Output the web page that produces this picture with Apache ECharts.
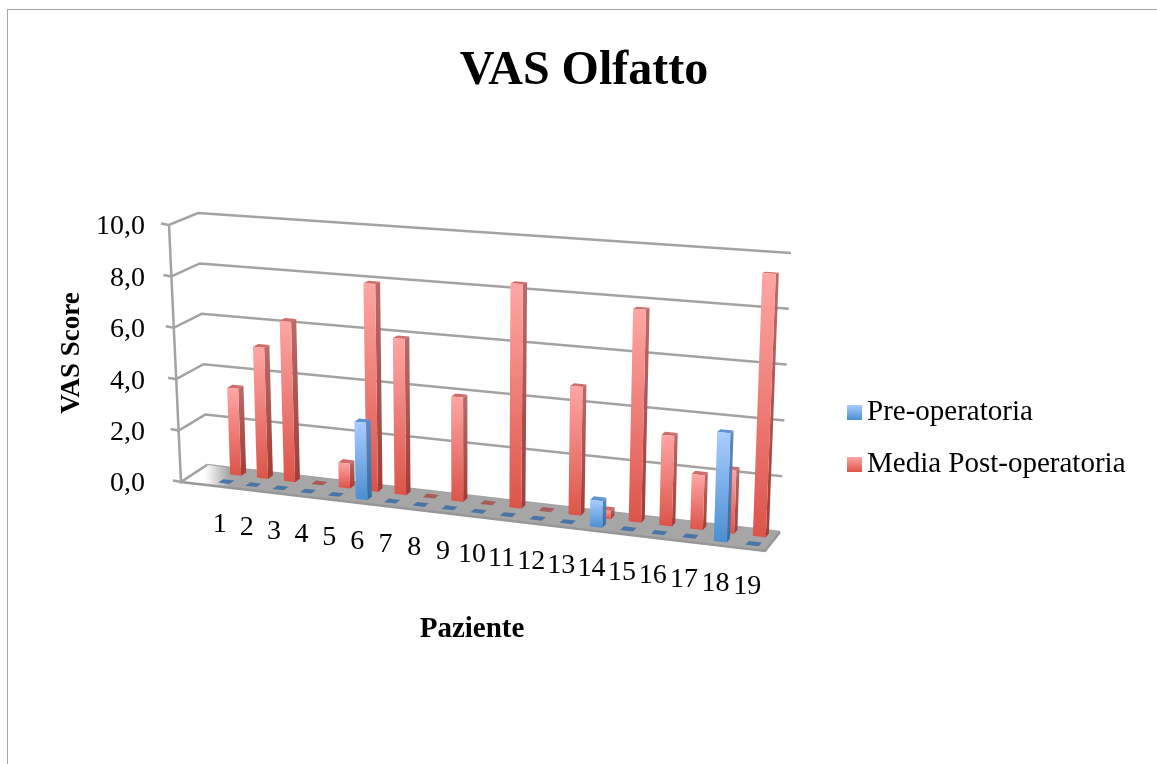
<!DOCTYPE html>
<html>
<head>
<meta charset="utf-8">
<title>VAS Olfatto</title>
<script src="https://cdn.jsdelivr.net/npm/echarts@6/dist/echarts.min.js"></script>
<style>
  html, body { margin: 0; padding: 0; background: #fff; overflow: hidden; }
  #frame { position: absolute; left: 7px; top: 9px; right: -2px; bottom: -2px; border: 1px solid #a6a6a6; }
  #chart { position: absolute; left: 0; top: 0; width: 1157px; height: 764px; }
</style>
</head>
<body>
<div id="frame"></div>
<div id="chart"></div>
<script>
// Chart values
const pazienti = ["1","2","3","4","5","6","7","8","9","10","11","12","13","14","15","16","17","18","19"];
const preOperatoria = [0, 0, 0, 0, 0, 2.9, 0, 0, 0, 0, 0, 0, 0, 0.95, 0, 0, 0, 3.8, 0];
const postOperatoria = [3.4, 5.1, 6.2, 0, 0.95, 7.9, 5.9, 0, 3.9, 0, 8.3, 0, 4.7, 0.3, 7.7, 3.25, 1.95, 2.25, 9.3];
const yTicks = [0, 2, 4, 6, 8, 10];

const FONT = '"Liberation Serif", serif';

// Grid of the real axes
const GRID = { left: 181, top: 227, width: 582, height: 257 };

// Corners of the 3D box as seen on screen
const FLOOR = { fl: [181, 482], bl: [207, 465], br: [780, 532], fr: [765, 551] };
const CEIL = { fl: [169, 225], bl: [198, 213], br: [791, 253], fr: [776, 258] };

// Where the first and last bar sit along the box, and how much the spacing grows
const S0 = 0.065;
const S1 = 0.973;
const PERSP = 1.09;
const BAR_HALF = 0.0114;
const BAR_DEPTH = 0.2;

function mix(a, b, k) {
  return [a[0] + (b[0] - a[0]) * k, a[1] + (b[1] - a[1]) * k];
}

function boxPoint(box, s, d) {
  const front = mix(box.fl, box.fr, s);
  const back = mix(box.bl, box.br, s);
  return mix(front, back, d);
}

// s along the row, d into the depth, h height between floor and ceiling
function project(s, d, h) {
  return mix(boxPoint(FLOOR, s, d), boxPoint(CEIL, s, d), h);
}

// From the library's pixel coords to the position in the box
function toBox(coord) {
  const t = (coord[0] - GRID.left) / GRID.width;
  const h = (GRID.top + GRID.height - coord[1]) / GRID.height;
  return { t: t, h: h };
}

function rowPos(t) {
  const g = t / (t + (1 - t) * PERSP);
  return S0 + (S1 - S0) * g;
}

function vGrad(top, bottom) {
  return new echarts.graphic.LinearGradient(0, 0, 0, 1, [
    { offset: 0, color: top },
    { offset: 1, color: bottom },
  ]);
}

function poly(points, fill) {
  return { type: "polygon", shape: { points: points }, style: { fill: fill } };
}

function barRenderer(depth, colors) {
  return function (params, api) {
    const pos = toBox(api.coord([api.value(0), api.value(1)]));
    const sL = rowPos(pos.t - BAR_HALF);
    const sR = rowPos(pos.t + BAR_HALF);
    const d0 = depth;
    const d1 = depth + BAR_DEPTH;
    const h = pos.h;
    const top = poly(
      [project(sL, d0, h), project(sR, d0, h), project(sR, d1, h), project(sL, d1, h)],
      h > 0 ? colors.top : colors.flat
    );
    if (h <= 0) return { type: "group", children: [top] };
    return {
      type: "group",
      children: [
        poly(
          [project(sR, d0, 0), project(sR, d1, 0), project(sR, d1, h), project(sR, d0, h)],
          vGrad(colors.sideTop, colors.sideBottom)
        ),
        top,
        poly(
          [project(sL, d0, 0), project(sR, d0, 0), project(sR, d0, h), project(sL, d0, h)],
          vGrad(colors.frontTop, colors.frontBottom)
        ),
      ],
    };
  };
}

// Side wall and back wall lines, one per tick
function renderWallLine(params, api) {
  const h = toBox(api.coord([0, api.value(1)])).h;
  const fl = project(0, 0, h);
  return {
    type: "polyline",
    shape: {
      points: [[fl[0] - 8, fl[1] - 1.5], fl, project(0, 1, h), project(1, 1, h)],
    },
    style: { fill: null, stroke: "#a3a3a3", lineWidth: 2.5 },
  };
}

function renderFloor() {
  return {
    type: "group",
    children: [
      {
        type: "polygon",
        shape: { points: [project(0, 0, 0), project(0, 1, 0), project(1, 1, 0), project(1, 0, 0)] },
        style: {
          fill: new echarts.graphic.LinearGradient(0, 0, 1, 0, [
            { offset: 0.04, color: "#ffffff" },
            { offset: 0.08, color: "#a6a6a6" },
            { offset: 1, color: "#a6a6a6" },
          ]),
        },
      },
      {
        type: "polyline",
        shape: { points: [project(0, 0, 0), project(1, 0, 0), project(1, 1, 0)] },
        style: { fill: null, stroke: "#979797", lineWidth: 2.5 },
      },
      {
        type: "polyline",
        shape: { points: [project(0, 1, 0), project(0, 0, 0), project(0, 0, 1)] },
        style: { fill: null, stroke: "#a3a3a3", lineWidth: 2.5 },
      },
    ],
  };
}

// Category labels follow the slanted floor
function renderCategoryLabel(params, api) {
  const t = toBox(api.coord([api.value(0), 0])).t;
  const p = project(rowPos(t), 0.265, 0);
  return {
    type: "text",
    x: p[0] - 6,
    y: p[1] + 43,
    style: {
      text: pazienti[params.dataIndex],
      font: "28px " + FONT,
      fill: "#000",
      align: "center",
      verticalAlign: "middle",
    },
  };
}

const blueColors = {
  frontTop: "#a9cdff",
  frontBottom: "#4a8ed2",
  sideTop: "#6288bd",
  sideBottom: "#396c9f",
  top: "#5f92d2",
  flat: "#4a74a6",
};
const redColors = {
  frontTop: "#ffa6a4",
  frontBottom: "#dc5449",
  sideTop: "#b76c6a",
  sideBottom: "#a23c36",
  top: "#cf6d6a",
  flat: "#a85b5b",
};

const chart = echarts.init(document.getElementById("chart"));

const option = {
  animation: false,
  title: {
    text: "VAS Olfatto",
    left: 579,
    top: 43,
    textAlign: "center",
    textStyle: { fontFamily: FONT, fontSize: 48, fontWeight: "bold", color: "#000" },
  },
  tooltip: { trigger: "item" },
  legend: {
    orient: "vertical",
    icon: "rect",
    left: 842,
    top: 393,
    itemWidth: 15,
    itemHeight: 15,
    itemGap: 23,
    data: ["Pre-operatoria", "Media Post-operatoria"],
    textStyle: { fontFamily: FONT, fontSize: 29, color: "#000" },
  },
  grid: GRID,
  xAxis: {
    type: "category",
    data: pazienti,
    boundaryGap: false,
    name: "Paziente",
    nameLocation: "middle",
    nameGap: 131,
    nameTextStyle: { fontFamily: FONT, fontSize: 29, fontWeight: "bold", color: "#000" },
    axisLine: { show: false },
    axisTick: { show: false },
    axisLabel: { show: false },
  },
  yAxis: {
    type: "value",
    min: 0,
    max: 10,
    interval: 2,
    name: "VAS Score",
    nameLocation: "middle",
    nameGap: 94,
    nameRotate: 90,
    nameTextStyle: { fontFamily: FONT, fontSize: 27, fontWeight: "bold", color: "#000", padding: [0, 0, 0, 5] },
    axisLine: { show: false },
    axisTick: { show: false },
    splitLine: { show: false },
    axisLabel: {
      margin: 36,
      fontFamily: FONT,
      fontSize: 28,
      color: "#000",
      formatter: function (v) {
        return v.toFixed(1).replace(".", ",");
      },
    },
  },
  series: [
    {
      name: "Pareti",
      type: "custom",
      silent: true,
      z: 1,
      renderItem: renderWallLine,
      data: yTicks.map((v) => [0, v]),
      tooltip: { show: false },
    },
    {
      name: "Pavimento",
      type: "custom",
      silent: true,
      z: 2,
      renderItem: renderFloor,
      data: [[0, 0]],
      tooltip: { show: false },
    },
    {
      name: "Etichette",
      type: "custom",
      silent: true,
      z: 2,
      renderItem: renderCategoryLabel,
      data: pazienti.map((p, i) => [i, 0]),
      tooltip: { show: false },
    },
    {
      name: "Media Post-operatoria",
      type: "custom",
      z: 3,
      renderItem: barRenderer(0.66, redColors),
      itemStyle: { color: vGrad("#ffa6a4", "#dc5449") },
      encode: { x: 0, y: 1 },
      data: postOperatoria.map((v, i) => [i, v]),
    },
    {
      name: "Pre-operatoria",
      type: "custom",
      z: 4,
      renderItem: barRenderer(0.19, blueColors),
      itemStyle: { color: vGrad("#a9cdff", "#4a8ed2") },
      encode: { x: 0, y: 1 },
      data: preOperatoria.map((v, i) => [i, v]),
    },
  ],
};

chart.setOption(option);

window.addEventListener("resize", function () {
  chart.resize();
});
</script>
</body>
</html>
